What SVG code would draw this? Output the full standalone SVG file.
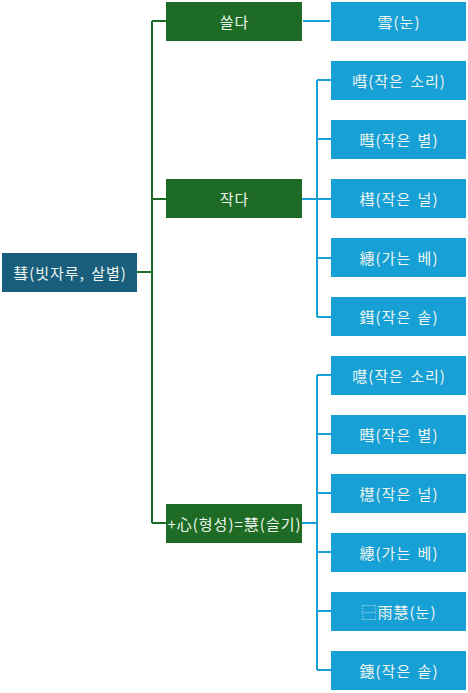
<svg xmlns="http://www.w3.org/2000/svg" width="468" height="693" viewBox="0 0 468 693">
<style>
.t{font-family:"Noto Sans CJK KR","Noto Sans CJK SC",sans-serif;font-size:15px;letter-spacing:1px;word-spacing:2px;fill:#eef5f0;text-anchor:middle;dominant-baseline:central}
.root{fill:#1a5e7d}
.mid{fill:#1d6b24}
.leaf{fill:#17a0d5}
.g{stroke:#1d6b24;stroke-width:2;fill:none}
.b{stroke:#17a0d5;stroke-width:2;fill:none}
</style>
<rect width="468" height="693" fill="#ffffff"/>
<g id="connectors">
<path class="g" d="M137 272H152M152 21V523M152 21H166M152 199H166M152 523H166"/>
<path class="b" d="M303 21H330"/>
<path class="b" d="M302 199H317M317 80V317M317 80H331M317 139H331M317 199H331M317 258H331M317 317H331"/>
<path class="b" d="M302 523H317M317 375V670M317 375H331M317 434H331M317 493H331M317 552H331M317 611H331M317 670H331"/>
</g>
<g id="root"><rect class="root" x="2" y="253" width="135" height="39"/><text class="t" x="70" y="272">彗(빗자루, 살별)</text></g>
<g id="n-sseulda"><rect class="mid" x="166" y="2" width="136" height="39"/><text class="t" x="234.5" y="21">쓸다</text></g>
<g id="n-jakda"><rect class="mid" x="166" y="179" width="136" height="39"/><text class="t" x="234.5" y="198">작다</text></g>
<g id="n-hye"><rect class="mid" x="166" y="504" width="136" height="39"/><text class="t" x="234.5" y="523">+心(형성)=慧(슬기)</text></g>
<g id="l1"><rect class="leaf" x="331" y="2" width="135" height="39"/><text class="t" x="399" y="21">雪(눈)</text></g>
<g id="l2"><rect class="leaf" x="331" y="61" width="135" height="39"/><text class="t" x="399" y="80">嘒(작은 소리)</text></g>
<g id="l3"><rect class="leaf" x="331" y="120" width="135" height="39"/><text class="t" x="399" y="139">暳(작은 별)</text></g>
<g id="l4"><rect class="leaf" x="331" y="179" width="135" height="39"/><text class="t" x="399" y="198">槥(작은 널)</text></g>
<g id="l5"><rect class="leaf" x="331" y="238" width="135" height="39"/><text class="t" x="399" y="257">繐(가는 베)</text></g>
<g id="l6"><rect class="leaf" x="331" y="297" width="135" height="39"/><text class="t" x="399" y="316">鏏(작은 솥)</text></g>
<g id="l7"><rect class="leaf" x="331" y="356" width="135" height="39"/><text class="t" x="399" y="375">嚖(작은 소리)</text></g>
<g id="l8"><rect class="leaf" x="331" y="415" width="135" height="39"/><text class="t" x="399" y="434">暳(작은 별)</text></g>
<g id="l9"><rect class="leaf" x="331" y="474" width="135" height="39"/><text class="t" x="399" y="493">櫘(작은 널)</text></g>
<g id="l10"><rect class="leaf" x="331" y="533" width="135" height="39"/><text class="t" x="399" y="552">繐(가는 베)</text></g>
<g id="l11"><rect class="leaf" x="331" y="592" width="135" height="39"/><text class="t" x="399" y="611">⿱雨慧(눈)</text></g>
<g id="l12"><rect class="leaf" x="331" y="651" width="135" height="39"/><text class="t" x="399" y="670">鏸(작은 솥)</text></g>
</svg>
